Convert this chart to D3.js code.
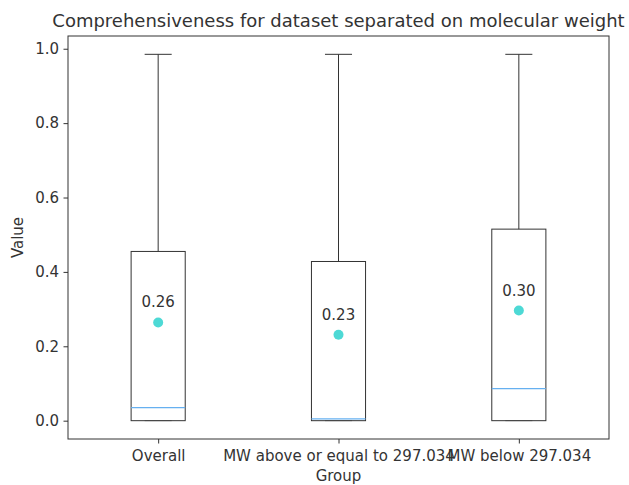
<!DOCTYPE html>
<html>
<head>
<meta charset="utf-8">
<script src="https://cdn.jsdelivr.net/npm/d3@7"></script>
<style>
    body { margin: 0; background: white; }
    text { font-family: "DejaVu Sans", sans-serif; fill: #333; }
</style>
</head>
<body>
<div id="chart"></div>
<script>
// Data
const groups = ["Overall", "MW above or equal to 297.034", "MW below 297.034"]
const q1 = [0.0, 0.0, 0.0]
const q3 = [0.455, 0.428, 0.515]
const medians = [0.035, 0.005, 0.086]
const means = [0.264, 0.231, 0.296]
const whiskerLow = [0.0, 0.0, 0.0]
const whiskerHigh = [0.985, 0.985, 0.985]
const yTicks = [0.0, 0.2, 0.4, 0.6, 0.8, 1.0]

const width = 629, height = 485
const margin = { top: 36, right: 20, bottom: 46, left: 68 }
const fs = "15px"

const svg = d3.select("#chart")
    .append("svg")
    .attr("width", width)
    .attr("height", height)

const x = d3.scaleLinear()
    .domain([0.5, 3.5])
    .range([margin.left, width - margin.right])

const y = d3.scaleLinear()
    .domain([-0.04925, 1.03425])
    .range([height - margin.bottom, margin.top])

const boxW = 0.3
const capW = 0.15

const data = groups.map((g, i) => ({
    name: g, pos: i + 1, q1: q1[i], q3: q3[i], med: medians[i],
    mean: means[i], lo: whiskerLow[i], hi: whiskerHigh[i]
}))

const boxes = svg.append("g")
    .selectAll("g")
    .data(data)
    .join("g")

// whiskers
boxes.append("line")
    .attr("x1", d => x(d.pos)).attr("x2", d => x(d.pos))
    .attr("y1", d => y(d.q3)).attr("y2", d => y(d.hi))
    .attr("stroke", "#333").attr("stroke-width", 1)

boxes.append("line")
    .attr("x1", d => x(d.pos - capW / 2)).attr("x2", d => x(d.pos + capW / 2))
    .attr("y1", d => y(d.hi)).attr("y2", d => y(d.hi))
    .attr("stroke", "#333").attr("stroke-width", 1)

boxes.append("line")
    .attr("x1", d => x(d.pos - capW / 2)).attr("x2", d => x(d.pos + capW / 2))
    .attr("y1", d => y(d.lo)).attr("y2", d => y(d.lo))
    .attr("stroke", "#999").attr("stroke-width", 1)

// box
boxes.append("rect")
    .attr("x", d => x(d.pos - boxW / 2))
    .attr("width", d => x(d.pos + boxW / 2) - x(d.pos - boxW / 2))
    .attr("y", d => y(d.q3))
    .attr("height", d => y(d.q1) - y(d.q3))
    .attr("fill", "none")
    .attr("stroke", "#333").attr("stroke-width", 1)

// median
boxes.append("line")
    .attr("x1", d => x(d.pos - boxW / 2)).attr("x2", d => x(d.pos + boxW / 2))
    .attr("y1", d => y(d.med)).attr("y2", d => y(d.med))
    .attr("stroke", "#66b0f0").attr("stroke-width", 1.2)

// mean
boxes.append("circle")
    .attr("cx", d => x(d.pos))
    .attr("cy", d => y(d.mean))
    .attr("r", 5)
    .attr("fill", "#4dd9d5")

boxes.append("text")
    .attr("x", d => x(d.pos))
    .attr("y", d => y(d.mean) - 15)
    .attr("text-anchor", "middle")
    .attr("font-size", fs)
    .text(d => d.mean.toFixed(2))

// Axes
const xAxis = svg.append("g")
    .attr("transform", `translate(0,${height - margin.bottom})`)
    .call(d3.axisBottom(x).tickValues([1, 2, 3]).tickFormat((d, i) => groups[i]).tickSizeOuter(0).tickSize(4.5))

const yAxis = svg.append("g")
    .attr("transform", `translate(${margin.left},0)`)
    .call(d3.axisLeft(y).tickValues(yTicks).tickFormat(d3.format(".1f")).tickSizeOuter(0).tickSize(4.5))

for (const ax of [xAxis, yAxis]) {
    ax.selectAll("text").attr("font-size", fs).attr("font-family", "DejaVu Sans")
    ax.selectAll("line").attr("stroke", "#333")
    ax.select(".domain").remove()
}
xAxis.selectAll("text").attr("dy", "0.95em")
yAxis.selectAll("text").attr("dx", "-0.1em")

// frame
svg.append("rect")
    .attr("x", margin.left).attr("y", margin.top)
    .attr("width", width - margin.left - margin.right)
    .attr("height", height - margin.top - margin.bottom)
    .attr("fill", "none").attr("stroke", "#333").attr("stroke-width", 1)

// Labels
svg.append("text")
    .attr("x", (margin.left + width - margin.right) / 2)
    .attr("y", 27)
    .attr("text-anchor", "middle")
    .attr("font-size", "18px")
    .text("Comprehensiveness for dataset separated on molecular weight")

svg.append("text")
    .attr("x", (margin.left + width - margin.right) / 2)
    .attr("y", 481)
    .attr("text-anchor", "middle")
    .attr("font-size", fs)
    .text("Group")

svg.append("text")
    .attr("transform", `translate(23,${(margin.top + height - margin.bottom) / 2}) rotate(-90)`)
    .attr("text-anchor", "middle")
    .attr("font-size", fs)
    .text("Value")
</script>
</body>
</html>
